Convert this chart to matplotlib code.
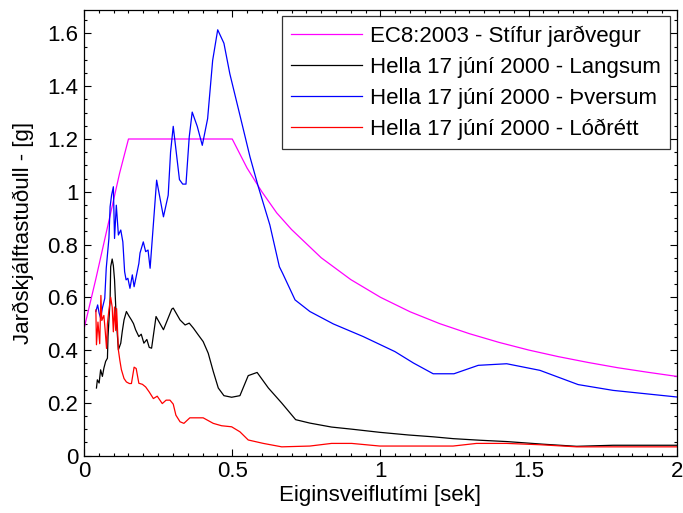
import matplotlib
matplotlib.use("Agg")
import matplotlib.pyplot as plt
from matplotlib.ticker import MultipleLocator

plt.rcParams['font.family'] = ['Liberation Sans', 'DejaVu Sans']

# EC8:2003 - Stífur jarðvegur
ec8_T = [0.0, 0.04, 0.08, 0.12, 0.15, 0.5, 0.55, 0.6, 0.65, 0.7, 0.8, 0.9, 1.0, 1.1, 1.2, 1.3,
         1.4, 1.5, 1.6, 1.7, 1.8, 1.9, 2.0]
ec8_S = [0.48, 0.67, 0.87, 1.07, 1.2, 1.2, 1.09, 1.0, 0.92, 0.857, 0.75, 0.667, 0.6, 0.545, 0.5, 0.462,
         0.429, 0.4, 0.375, 0.353, 0.333, 0.316, 0.3]

# Hella 17 júní 2000 - Langsum
lang_T = [0.042, 0.045, 0.051, 0.056, 0.062, 0.067, 0.073, 0.079, 0.081, 0.088, 0.09, 0.095, 0.099,
          0.103, 0.109, 0.116, 0.124, 0.129, 0.135, 0.143, 0.151, 0.16, 0.167, 0.174, 0.185, 0.193,
          0.202, 0.212, 0.22, 0.228, 0.243, 0.268, 0.296, 0.301, 0.324, 0.341, 0.355, 0.369, 0.385,
          0.402, 0.419, 0.436, 0.453, 0.472, 0.498, 0.526, 0.554, 0.584, 0.622, 0.667, 0.714, 0.762,
          0.835, 0.903, 0.998, 1.094, 1.178, 1.246, 1.336, 1.426, 1.549, 1.662, 1.785, 2.0]
lang_S = [0.256, 0.287, 0.275, 0.325, 0.3, 0.331, 0.357, 0.369, 0.451, 0.59, 0.716, 0.745, 0.72,
          0.666, 0.514, 0.401, 0.426, 0.47, 0.514, 0.546, 0.53, 0.514, 0.5, 0.477, 0.451, 0.46,
          0.426, 0.44, 0.41, 0.407, 0.527, 0.477, 0.555, 0.559, 0.514, 0.495, 0.502, 0.483, 0.458,
          0.432, 0.388, 0.319, 0.256, 0.227, 0.221, 0.227, 0.303, 0.315, 0.256, 0.199, 0.136, 0.123,
          0.108, 0.1, 0.088, 0.078, 0.071, 0.064, 0.058, 0.053, 0.043, 0.035, 0.039, 0.039]

# Hella 17 júní 2000 - Þversum
thv_T = [0.04, 0.046, 0.051, 0.056, 0.062, 0.07, 0.075, 0.084, 0.088, 0.093, 0.099, 0.103, 0.109,
         0.116, 0.124, 0.131, 0.137, 0.142, 0.148, 0.155, 0.163, 0.169, 0.176, 0.185, 0.189, 0.2,
         0.208, 0.216, 0.223, 0.245, 0.268, 0.284, 0.292, 0.301, 0.322, 0.333, 0.344, 0.355, 0.365,
         0.382, 0.399, 0.417, 0.434, 0.451, 0.472, 0.492, 0.526, 0.56, 0.588, 0.627, 0.659, 0.67,
         0.712, 0.762, 0.841, 0.942, 1.049, 1.111, 1.178, 1.248, 1.33, 1.426, 1.538, 1.667, 1.785, 2.0]
thv_S = [0.546, 0.571, 0.54, 0.521, 0.559, 0.596, 0.71, 0.823, 0.943, 0.987, 1.019, 0.823, 0.949,
         0.836, 0.855, 0.81, 0.697, 0.666, 0.672, 0.634, 0.685, 0.64, 0.678, 0.728, 0.768, 0.81,
         0.773, 0.779, 0.71, 1.044, 0.905, 0.987, 1.15, 1.248, 1.046, 1.029, 1.029, 1.208, 1.302,
         1.248, 1.176, 1.277, 1.498, 1.614, 1.563, 1.447, 1.29, 1.132, 1.019, 0.874, 0.716, 0.691,
         0.59, 0.546, 0.499, 0.451, 0.394, 0.351, 0.31, 0.31, 0.342, 0.348, 0.323, 0.269, 0.247, 0.222]

# Hella 17 júní 2000 - Lóðrétt
lod_T = [0.04, 0.042, 0.047, 0.053, 0.057, 0.06, 0.067, 0.071, 0.076, 0.079, 0.084, 0.09, 0.095,
         0.099, 0.103, 0.107, 0.11, 0.116, 0.121, 0.126, 0.135, 0.143, 0.153, 0.16, 0.169, 0.176,
         0.185, 0.197, 0.208, 0.22, 0.234, 0.247, 0.264, 0.277, 0.29, 0.301, 0.31, 0.324, 0.337,
         0.357, 0.402, 0.436, 0.464, 0.498, 0.526, 0.554, 0.605, 0.667, 0.762, 0.835, 0.903,
         0.998, 1.245, 1.324, 1.426, 1.538, 1.662, 1.785, 2.0]
lod_S = [0.552, 0.42, 0.506, 0.424, 0.607, 0.512, 0.531, 0.48, 0.406, 0.5, 0.552, 0.6, 0.563,
         0.469, 0.563, 0.474, 0.557, 0.4, 0.36, 0.326, 0.292, 0.279, 0.273, 0.273, 0.335, 0.33,
         0.274, 0.27, 0.26, 0.241, 0.216, 0.225, 0.197, 0.21, 0.21, 0.195, 0.153, 0.128, 0.122,
         0.143, 0.143, 0.122, 0.113, 0.109, 0.09, 0.059, 0.046, 0.033, 0.036, 0.046, 0.046,
         0.036, 0.036, 0.046, 0.046, 0.041, 0.033, 0.033, 0.033]

labels = ["EC8:2003 - Stífur jarðvegur", "Hella 17 júní 2000 - Langsum",
          "Hella 17 júní 2000 - Þversum", "Hella 17 júní 2000 - Lóðrétt"]
colors = ["#FF00FF", "#000000", "#0000FF", "#FF0000"]

FS = 16

fig = plt.figure(figsize=(6.83, 5.13), dpi=100)
ax = fig.add_axes([0.123, 0.112, 0.868, 0.869])

for T, S, lab, c in zip([ec8_T, lang_T, thv_T, lod_T], [ec8_S, lang_S, thv_S, lod_S], labels, colors):
    ax.plot(T, S, color=c, lw=0.9, label=lab)

ax.set_xlim(0, 2)
ax.set_ylim(0, 1.69)
ax.xaxis.set_minor_locator(MultipleLocator(0.05))
ax.yaxis.set_minor_locator(MultipleLocator(0.05))
ax.set_xticks([0, 0.5, 1, 1.5, 2])
ax.set_xticklabels(["0", "0.5", "1", "1.5", "2"])
ax.set_yticks([0, 0.2, 0.4, 0.6, 0.8, 1.0, 1.2, 1.4, 1.6])
ax.set_yticklabels(["0", "0.2", "0.4", "0.6", "0.8", "1", "1.2", "1.4", "1.6"])
ax.tick_params(which='both', direction='in', top=True, right=True, labelsize=FS, width=0.8)
ax.tick_params(which='major', length=5, pad=4)
ax.tick_params(which='minor', length=2.5)
for s in ax.spines.values():
    s.set_linewidth(0.9)

ax.set_xlabel("Eiginsveiflutími [sek]", fontsize=FS, labelpad=2)
ax.set_ylabel("Jarðskjálftastuðull - [g]", fontsize=FS, labelpad=10)

leg = ax.legend(loc='upper right', fontsize=FS, frameon=True, fancybox=False, edgecolor='black',
                handlelength=3.2, handletextpad=0.35, borderpad=0.42, labelspacing=0.44,
                borderaxespad=0.3)
leg.get_frame().set_linewidth(0.9)

fig.savefig("out.png", dpi=100)
